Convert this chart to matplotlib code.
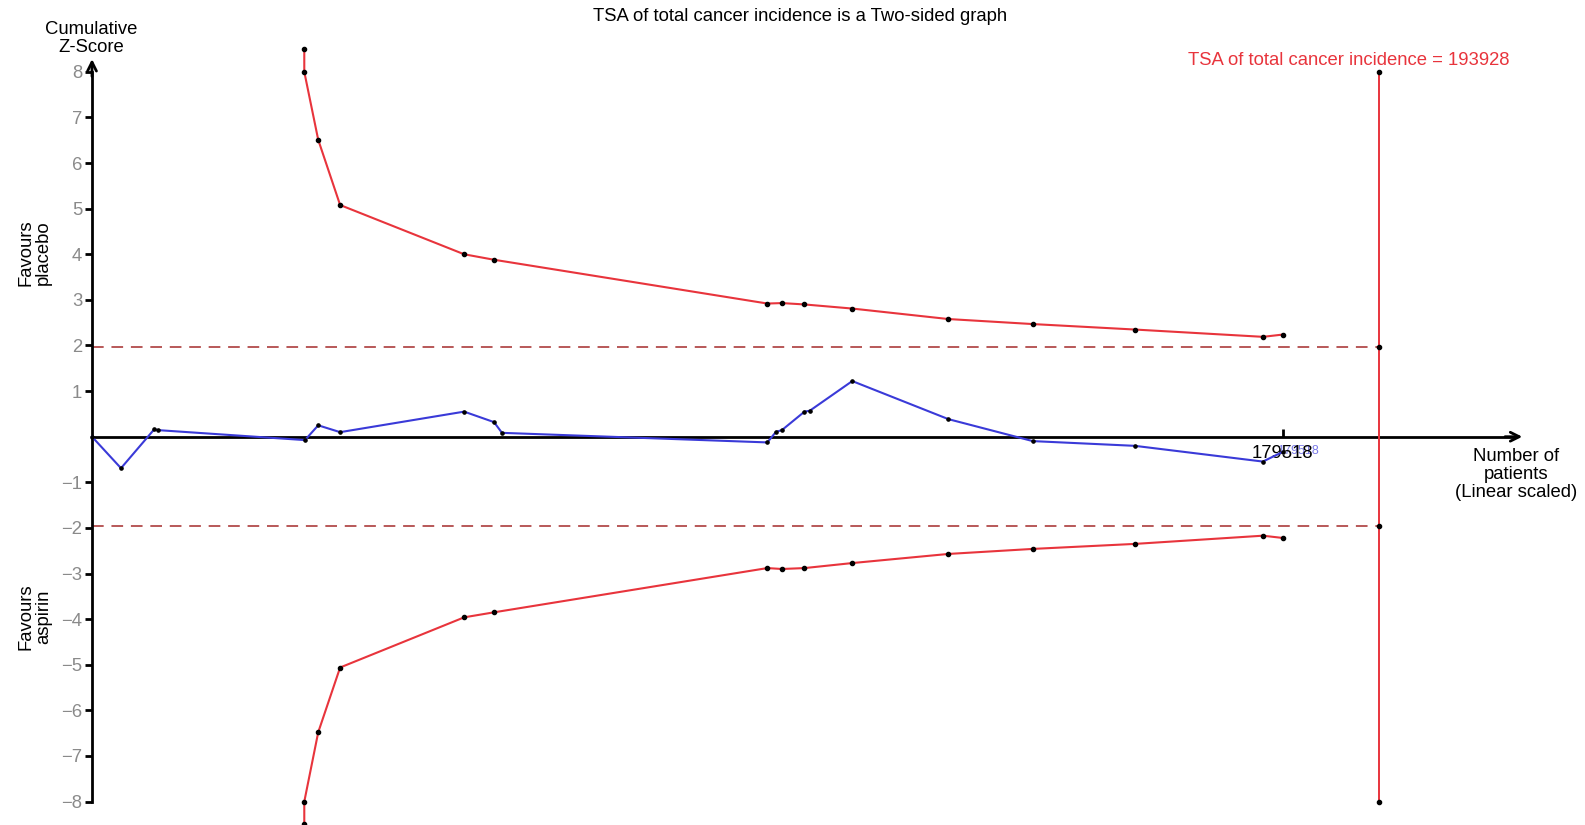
import matplotlib
matplotlib.use("Agg")
import matplotlib.pyplot as plt

plt.rcParams['font.family'] = ['Liberation Sans', 'DejaVu Sans']

# Cumulative Z-curve (number of patients, cumulative Z-score)
z_patients = [0, 4370, 9400, 9900, 32100, 34100, 37400, 56100, 60600, 61800,
              101800, 103100, 104000, 107400, 108200, 114600, 129100, 141800,
              157200, 176500, 179518]
z_scores = [0.0, -0.69, 0.166, 0.145, -0.074, 0.25, 0.10, 0.55, 0.32, 0.085,
            -0.125, 0.107, 0.145, 0.55, 0.57, 1.22, 0.385, -0.096,
            -0.20, -0.545, -0.33]

# Trial sequential monitoring boundaries
b_patients = [32000, 32000, 34100, 37400, 56100, 60600, 101800, 104000, 107400,
              114600, 129100, 141800, 157200, 176500, 179518]
b_upper = [8.5, 8.0, 6.51, 5.08, 4.00, 3.88, 2.92, 2.93, 2.90, 2.81, 2.58,
           2.47, 2.35, 2.19, 2.24]
b_lower = [-8.5, -8.0, -6.48, -5.06, -3.96, -3.85, -2.88, -2.90, -2.88, -2.77,
           -2.57, -2.46, -2.35, -2.17, -2.22]

# Required information size and conventional significance level
ris = 193928
accrued = 179518
conv_z = 1.96
y_ticks = [-8, -7, -6, -5, -4, -3, -2, -1, 1, 2, 3, 4, 5, 6, 7, 8]

RED = '#e8343c'
BLUE = '#3a3ad8'
DASH = '#b85858'
FS = 13.3

fig = plt.figure(figsize=(15.85, 8.25), dpi=100)
ax = fig.add_axes([0, 0, 1, 1])
ax.set_xlim(-13868, 225053)
ax.set_ylim(-8.513, 9.575)

# axes drawn through the origin
for side in ('top', 'right'):
    ax.spines[side].set_visible(False)
ax.spines['left'].set_position(('data', 0))
ax.spines['bottom'].set_position(('data', 0))
ax.spines['left'].set_bounds(-8, 8)
ax.spines['bottom'].set_bounds(0, 214000)
ax.spines['left'].set_linewidth(2)
ax.spines['bottom'].set_linewidth(2)
ax.annotate('', xy=(0, 8.28), xytext=(0, 7.9),
            arrowprops=dict(arrowstyle='->', lw=2, color='black',
                            mutation_scale=16, shrinkA=0, shrinkB=0))
ax.annotate('', xy=(215600, 0), xytext=(213000, 0),
            arrowprops=dict(arrowstyle='->', lw=2, color='black',
                            mutation_scale=16, shrinkA=0, shrinkB=0))

ax.set_yticks(y_ticks)
ax.set_yticklabels([str(t).replace('-', '\u2212') for t in y_ticks])
ax.tick_params(axis='y', direction='out', length=5, width=2, colors='black',
               labelcolor='#8a8a8a', labelsize=FS, pad=2)
ax.set_xticks([accrued])
ax.set_xticklabels([str(accrued)])
ax.tick_params(axis='x', direction='in', length=6, width=2,
               labelsize=FS, pad=6)

# conventional boundaries
for zc in (conv_z, -conv_z):
    ax.plot([0, ris], [zc, zc], color=DASH, lw=1.4, ls=(0, (6, 4)), zorder=2)
    ax.plot([ris], [zc], 'o', color='black', ms=3, zorder=5)

# required information size
ax.plot([ris, ris], [-8, 8], color=RED, lw=1.4, zorder=3)
ax.plot([ris, ris], [-8, 8], 'o', color='black', ms=3, ls='none', zorder=5)

# monitoring boundaries
ax.plot(b_patients, b_upper, color=RED, lw=1.5, marker='o', ms=3,
        mfc='black', mec='black', zorder=4, clip_on=False)
ax.plot(b_patients, b_lower, color=RED, lw=1.5, marker='o', ms=3,
        mfc='black', mec='black', zorder=4, clip_on=False)

# cumulative Z-curve
ax.plot(z_patients, z_scores, color=BLUE, lw=1.5, marker='o', ms=2.3,
        mfc='black', mec='black', zorder=4)
ax.text(181800, -0.32, str(accrued), color='#7a7ae8', fontsize=9,
        ha='center', va='center', zorder=1)

# texts
fig.text(0.5045, 0.980, 'TSA of total cancer incidence is a Two-sided graph',
         ha='center', va='center', fontsize=FS)
fig.text(0.0575, 0.953, 'Cumulative\nZ-Score', ha='center', va='center',
         fontsize=FS, linespacing=1.05)
fig.text(0.022, 0.694, 'Favours\nplacebo', ha='center', va='center',
         rotation=90, fontsize=FS, linespacing=1.05)
fig.text(0.022, 0.252, 'Favours\naspirin', ha='center', va='center',
         rotation=90, fontsize=FS, linespacing=1.05)
ax.text(189500, 8.24, 'TSA of total cancer incidence = %d' % ris,
        color=RED, ha='center', va='center', fontsize=FS)
fig.text(0.9566, 0.4245, 'Number of\npatients\n(Linear scaled)', ha='center',
         va='center', fontsize=FS, linespacing=1.08)

fig.savefig('out.png', dpi=100, facecolor='white')
